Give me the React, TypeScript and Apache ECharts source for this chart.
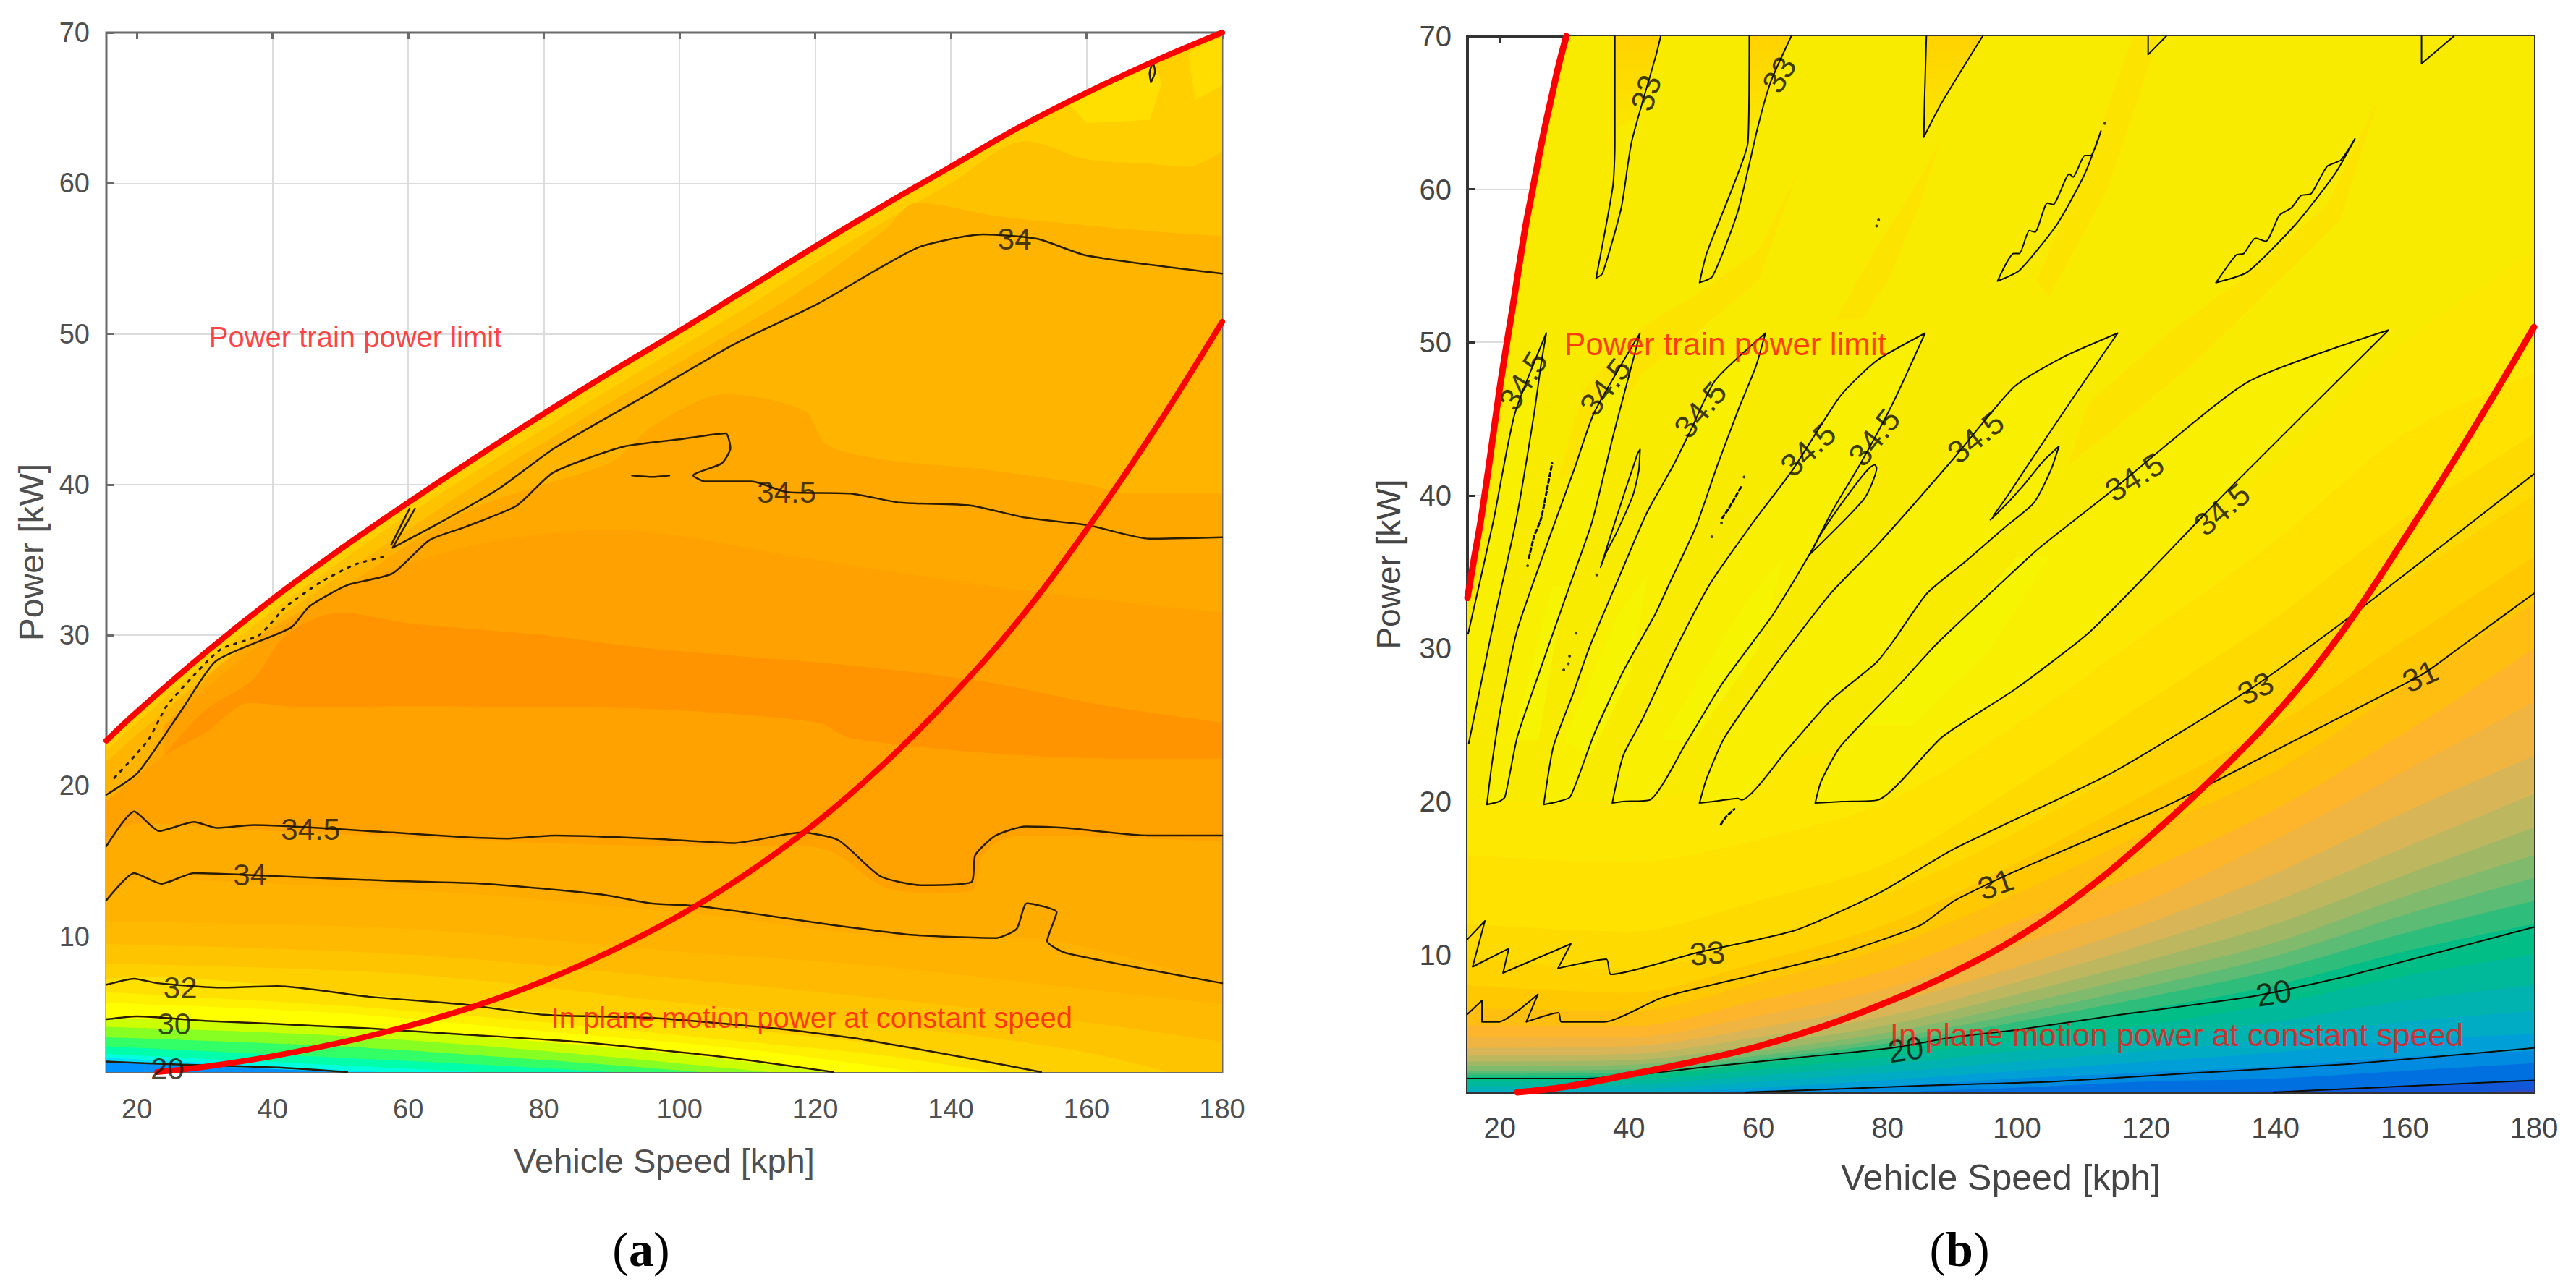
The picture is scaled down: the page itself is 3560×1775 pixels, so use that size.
import React, { useEffect, useRef } from "react";
import * as echarts from "echarts";

type P = number[];
const xTicks = [20, 40, 60, 80, 100, 120, 140, 160, 180];
const yTicks = [10, 20, 30, 40, 50, 60, 70];
const xTitle = "Vehicle Speed [kph]";
const yTitle = "Power [kW]";
const limitLabel = "Power train power limit";
const planeLabel = "In plane motion power at constant speed";

// ---------- panel (a) ----------
const limitA: P[] = [[15.5,23],[20,24.9],[30,28.8],[40,32.4],[50,35.7],[60,38.8],[70,41.8],[80,44.7],[90,47.5],[100,50.2],[110,53],[120,55.8],[130,58.5],[140,61.1],[150,63.7],[160,66],[170,68.1],[180,70]];
const planeA: P[] = [[23,1],[30,1.35],[40,2.05],[50,2.95],[60,4.05],[70,5.4],[80,7.05],[90,9.05],[100,11.4],[110,14.2],[120,17.5],[130,21.4],[140,25.9],[150,31],[160,37],[170,43.6],[180,50.8]];
const bandColorsA = ["#FFC200","#FFB400","#FFA900","#FFA100","#FF9400","#FFA200","#FFAC00","#FFB300","#FFBA00","#FFC400","#FFD000","#FFE000","#FFF000","#FFFF00","#CCFF00","#88FF22","#33FF66","#00FFAA","#00FFDD","#00E0FF","#0090FF"];
const bandsA: P[][] = [
  [[15.5,22.4],[20,24.2],[30,28.1],[40,31.6],[50,34.9],[60,38],[70,40.9],[80,43.7],[90,46.4],[100,49.1],[110,51.8],[120,54.7],[130,57.4],[140,60],[151,62.8],[160,61.6],[169,61.3],[175,61.1],[180,62.1]],
  [[15.5,21.6],[20,23.4],[30,27.2],[40,30.8],[50,34],[60,37],[70,40],[80,42.8],[90,45.5],[100,48.1],[110,50.7],[120,53.5],[130,56.8],[135,58.7],[147,57.8],[160,57.2],[170,56.8],[180,56.5]],
  [[15.5,19],[20,20.5],[30,27],[40,30.5],[50,33],[60,36],[70,38.5],[80,40],[90,41.5],[95.8,43.8],[106.8,46],[118.4,44.9],[121.6,42.7],[129.5,41.7],[144.8,41],[160.2,40],[166,39.4],[180,39.4]],
  [[24,24],[37,29],[50,33],[70,36],[90,37],[120,35],[150,33],[180,31.5]],
  [[24,22],[30,25],[37,27],[42,30],[50,31.5],[60,30.8],[80,30],[95.8,29.1],[125,28],[145,26.9],[163,25.3],[180,24.2]],
  [[15.5,19],[24,22],[30,23.5],[36.7,25.5],[45,25.2],[60,25.3],[80,25.2],[95.8,25.1],[120.4,24.2],[125,23.2],[145,22.2],[166,21.8],[180,21.8]],
  [[15.5,16.5],[20,17.5],[40,17],[80,16.2],[100,16],[118,16],[123,15.5],[130,13.3],[136,12.9],[143,13],[144.5,15.2],[147,16.3],[151,16.7],[180,16.3]],
  [[15.5,12.5],[20,13.8],[40,13.5],[70,12.8],[90,12],[103,11.5],[120,10.5],[140,9.7],[150,9.9],[180,6.8]],
  [[15.5,11],[60,10.5],[100,9],[130,8],[160,6.5],[180,5.5]],
  [[15.5,9.5],[60,8.8],[100,7.2],[140,5.4],[160,4.3],[180,3]],
  [[15.5,8.2],[60,7.5],[100,5.6],[140,3.6],[160,2.3],[172,1]],
  [[15.5,7.2],[22,7.3],[50,6.3],[80,5],[110,3.8],[130,2.8],[153,1]],
  [[15.5,6.3],[50,5.4],[80,4.3],[110,3],[130,2.1],[146,1]],
  [[15.5,5.6],[50,4.9],[80,3.7],[110,2.5],[135,1]],
  [[15.5,4.6],[50,4],[80,3],[100,2.2],[122,1]],
  [[15.5,4],[50,3.4],[80,2.4],[113,1]],
  [[15.5,3.3],[50,2.7],[80,1.8],[103,1]],
  [[15.5,2.7],[50,1.95],[70,1.5],[90,1]],
  [[15.5,2.2],[50,1.45],[70,1]],
  [[15.5,1.95],[40,1.4],[56,1]],
  [[15.5,1.75],[26,1.5],[40,1.2],[50,1]],
];
const patchesA: P[][] = [
  [[157,65.5],[160,64],[169.3,64.2],[171.1,66.6],[170,68],[164,67]],
  [[175,68.6],[179.8,69.8],[180,66.5],[176,65.5]],
];
const patchColorsA = ["#FFDF00", "#FFDD00"];
const contoursA: P[][] = [
  [[15.5,19.4],[20.2,20.9],[27,25.3],[31.7,28.3],[42.7,30.5],[45.4,31.9],[50.9,33.3],[57.7,34.1],[63.1,36.3],[68.5,37.2],[76,38.6],[81.4,40.8],[91.6,42.5],[100,43],[106.8,43.4],[107.5,42.4],[106.2,41.4],[102,40.6],[103.8,40.2],[110.6,40.2],[115.8,39.5],[125.2,39.4],[132.5,38.8],[143,38.6],[151,37.8],[160.2,37.3],[169.3,36.4],[180,36.5]],
  [[93,40.6],[96,40.5],[98.5,40.6]],
  [[61,38.4],[58.2,36.2],[57.7,35.8],[64.4,37.4],[73.3,39.7],[81.5,42.4],[95,45.9],[108,49.3],[120.4,52],[135,55.7],[144.8,56.6],[152.8,56.3],[160,55.2],[180,54]],
  [[60.2,38.4],[57.5,36]],
  [[15.5,16],[19.6,18.3],[23.3,17],[28.4,17.6],[31.8,17.2],[37.2,17.4],[57.7,16.9],[67.9,16.6],[74.7,16.5],[81.5,16.7],[95.8,16.5],[108,16.2],[118,16.9],[123.4,16.4],[129.6,14],[135.6,13.4],[143,13.6],[143.6,15.4],[146.6,16.7],[151,17.3],[157,17.2],[169,16.7],[180,16.7]],
  [[15.5,12.4],[19.6,14.2],[23.6,13.5],[28.4,14.2],[40.7,14],[57,13.7],[71.3,13.5],[88.3,12.8],[95.8,12.2],[103.2,12],[120.4,10.9],[134.5,10.1],[146.6,9.9],[149.7,10.5],[151.2,12.2],[155.6,11.6],[154.2,9.7],[157,8.9],[180,6.9]],
  [[15.5,6.8],[19.6,7.2],[23,6.9],[32.5,6.6],[40.7,6.7],[54.2,6],[67.9,5.5],[80,4.8],[95.8,4.6],[114,3.9],[126.5,3.2],[141.6,2],[153.3,1]],
  [[15.5,4.5],[20,4.7],[30,4.4],[40,4.2],[54,3.9],[68,3.5],[85,3],[106.5,2],[122.7,1]],
  [[15.5,1.7],[26,1.5],[40.7,1.3],[51,1]],
  [[169.5,66.7],[170.1,67.4],[169.8,68],[169.3,67.3],[169.5,66.7]],
];
const dottedA: P[] = [[56.3,35.2],[52.2,34.7],[47.4,33.6],[42,31.9],[38,30],[32.5,29.1],[29.8,28],[24.4,25.3],[21.6,23],[16.2,20.3]];
const labelsA: (number | string)[][] = [[45.6,17.1,"34.5",0],[36.7,14.1,"34",0],[26.4,6.6,"32",0],[25.5,4.2,"30",0],[24.5,1.2,"20",0],[149.4,56.3,"34",0],[115.8,39.5,"34.5",0]];
const redA: (number | string)[][] = [[52.2,49.8,limitLabel],[119.5,4.6,planeLabel]];

// ---------- panel (b) ----------
const limitB: P[] = [[15,33.3],[16,35.8],[17,38.2],[18,41],[19,44],[20,47],[21,49.7],[22,52.3],[23,55],[24,57.6],[25,59.8],[26,62],[27,64.1],[28,66],[29,67.9],[30.3,70]];
const domainB: P[] = [...limitB, [180, 70]];
const planeB: P[] = [[22.7,1],[30,1.35],[40,2.15],[50,3],[60,4],[70,5.3],[80,6.9],[90,8.8],[100,11.1],[110,14],[120,17.5],[130,21.4],[140,25.7],[150,30.9],[160,37.2],[170,43.9],[180,51]];
const isoSpeeds = [15, 40, 60, 80, 100, 120, 140, 160, 180];
const isoColors = ["#FCE800","#FFE200","#FFDA00","#FFD200","#FFC800","#FFBE10","#FFB52B","#F0B440","#D8B658","#BDB860","#A0B866","#80BA6C","#5CBB74","#2EBD7A","#00BE85","#00B89A","#00B2B0","#00ACC4","#009FD8"];
const isoPowers: number[][] = [
  [20,20,22,25,30,36,42,50,56],
  [16.5,16,17.5,20,25,31,37,44,48],
  [12,11.5,13.5,16,21,26.5,32,38.5,44],
  [9.8,9,11,14,18,23,28.5,34.5,40],
  [8,7.5,9.5,12,16,20.5,25,30.5,36],
  [6.5,6.3,8.2,10.5,14,18,22,27.5,33],
  [5.4,5.3,7,9,12.2,15.5,19.5,24.5,30],
  [4.6,4.6,6,7.8,10.6,13.5,17.5,22,26.5],
  [3.9,4,5.2,6.8,9.2,12,15.3,19.3,23],
  [3.4,3.5,4.6,6,8.2,10.7,13.5,17,20.5],
  [3,3.1,4.1,5.4,7.4,9.6,12,15.2,18.3],
  [2.7,2.8,3.7,4.9,6.7,8.7,10.8,13.8,16.5],
  [2.4,2.5,3.4,4.5,6.1,7.9,9.9,12.6,15],
  [2.2,2.3,3.15,4.2,5.6,7.2,9,11.4,13.5],
  [2,2.1,2.9,3.9,5.1,6.4,8,10.2,12],
  [1.7,1.8,2.5,3.3,4.4,5.4,6.8,8.6,10],
  [1.4,1.5,2.1,2.8,3.7,4.5,5.6,7,8],
  [1.15,1.2,1.7,2.3,3,3.7,4.5,5.6,6.3],
  [1,1,1.3,1.8,2.4,3,3.6,4.4,4.8],
];
const lowIsoColors = ["#008AE0","#0070E0","#1058D8","#2A4CC8"];
const lowIso: P[][] = [
  [[50,1],[80,1.4],[100,1.9],[120,2.3],[140,2.7],[160,3.3],[180,3.7]],
  [[80,1],[100,1.3],[120,1.7],[140,1.9],[160,2.4],[180,2.9]],
  [[125,1],[140,1.1],[160,1.4],[180,1.8]],
  [[170,1],[180,1.2]],
];
const stripesB: P[][] = [
  [[108,42],[111,46],[124,50.8],[136,54.5],[148,59],[156,66],[150,58],[138,53],[127,48.5],[114,44]],
  [[29,41],[33,47],[42,51],[50,53],[60,56],[66,61],[60,54],[50,50.5],[42,48],[34,42]],
  [[72,51.5],[78,56],[84,60],[88,63],[85,59],[80,54],[76,51.5]],
  [[103,54],[112,63],[118,70],[122,70],[114,60],[105,53]],
];
const leafZero: P[] = [[15.1,30.95],[19,38.3],[22.3,45.3],[27.2,50.6],[26.4,48.6],[25.3,45.3],[22.5,38.3],[19.3,32.2],[15.2,23.8]];
const leafA: P[] = [[18,19.8],[18.8,22.5],[20.1,26],[22.7,31.2],[27.9,37.5],[31.6,41.8],[34.6,45.4],[41.7,50.6],[40.6,48.8],[37.6,44],[34.3,38.3],[30.9,34.2],[26,28.3],[22.7,24.2],[20.8,20.3],[19.9,20],[18,19.8]];
const leafB: P[] = [[26.8,19.8],[28.3,23.6],[31.3,27],[33.9,30.1],[38.4,34.6],[42.8,38.9],[46.9,42],[49.6,44.3],[53.3,47.5],[61.1,50.6],[59.6,48.4],[57,45.7],[53.7,42],[50.3,37.9],[46.2,34.2],[44,32.2],[39.1,28.5],[34.6,24.4],[30.9,20.3],[29,20],[26.8,19.8]];
const leafC: P[] = [[37.4,19.9],[39.1,23],[42.1,25.4],[46.9,29.7],[52.5,34.2],[59.3,38.3],[65.2,41.6],[72.7,46.5],[78.3,48.8],[85.8,50.6],[80.9,46.1],[75.7,42],[71.6,39.1],[67.85,36.1],[62.25,32.2],[60,30.9],[54.4,27.7],[48.8,23.8],[43.2,20.1],[39,20],[37.4,19.9]];
const leafD: P[] = [[50.9,19.9],[52,21.5],[54.8,24.2],[62.25,28.7],[71.2,33.6],[78.3,36.7],[90.2,42.4],[99.6,47.1],[107,49],[115.6,50.6],[108.9,46.5],[101.1,41.6],[98.6,40],[96.4,38.7]];
const leafDLower: P[] = [[50.9,19.9],[53,20],[56.8,20.2],[57.4,20.1],[64.5,23.4],[71.2,26.6],[78.3,29.1],[80.9,30.5],[86.1,33.6],[92.1,35.7],[98.1,37.9],[102.6,39.5],[105.2,41.6],[106.5,43.2],[104,42.2],[101.5,40.9],[99,39.7],[96.9,38.8],[95.9,38.4]];
const leafE: P[] = [[68.8,19.9],[69.7,21.3],[72.7,23.6],[82.4,27.9],[87.6,30.3],[95.85,33.6],[103.3,36.5],[113.8,40],[135.7,47.4],[157.5,50.8],[133.25,40.6],[119.1,34.4],[110.8,30.9],[99.6,27.3],[88.4,24.2],[78.5,20.1],[73,20],[68.8,19.9]];
const brightB: P[][] = [
  [[22,24],[28,34],[30,34],[26,24]],
  [[30,24],[38,32],[43,35],[40,28],[34,23]],
  [[45,24],[58,33],[64,36],[60,30],[50,24]],
  [[75,25],[92,32],[100,36],[105,36],[96,30],[84,25]],
];
const innerLoopsB: P[][] = [
  [[41.7,43],[41.3,42.7],[38,38.5],[35.6,35.3],[36.5,36.3],[38,37.5],[40.6,40],[41.5,41.6],[41.7,43]],
  [[67.85,36.1],[76.4,39.8],[78.3,41.8],[78,42],[73.45,39.8],[69.7,37.5],[68.2,36.3]],
];
const thickLoopsB: P[][] = [
  [[24.5,35.9],[25.3,37.3],[26.4,38.5],[27.5,40.8],[28.1,42.1]],
  [[54.4,38.5],[55.5,39.2],[57.4,40.6]],
  [[54.2,18.5],[55,19],[56.3,19.5]],
];
const upperLeavesB: P[][] = [
  [[37.8,70],[37.8,62.9],[37.5,60.2],[34.9,54.2],[35.9,54.5],[38.8,58.8],[40.4,63.1],[44.2,68.8],[44.9,70]],
  [[58.6,70],[58.4,63.1],[56.1,60.2],[52,55.8],[50.9,53.9],[52.9,54.3],[56.8,58.5],[60,64.2],[61.9,67],[65.1,70]],
  [[86,70],[85.7,65.6],[85.6,63.4],[88.3,65.6],[94.7,70]],
  [[120.3,70],[120.3,68.8],[123.1,70]],
  [[162.6,70],[162.6,68.2],[167.6,70]],
  [[97,54],[99.5,55.8],[100.4,55.8],[101.9,57.3],[102.8,57.2],[104.7,59.1],[105.6,59],[108.1,61],[108.7,60.8],[110.5,62.2],[111.4,62.2],[113,63.8],[110.5,61],[106.2,57.7],[100.4,54.7],[97,54]],
  [[130.8,53.9],[133.9,55.7],[135.1,55.8],[136.9,56.8],[138.5,56.6],[140.6,58.3],[142.5,58.8],[144,59.6],[145.5,59.7],[148,61.5],[150.1,61.9],[152.3,63.3],[149.2,61],[143.1,57.7],[135.7,54.6],[130.8,53.9]],
];
const topPatchesB: P[][] = [
  [[37.8,70],[37.8,64],[41,64.5],[44.9,70]],
  [[58.6,70],[58.4,64],[60.5,65],[65.1,70]],
  [[86,70],[85.7,64],[88.3,65.6],[94.7,70]],
];
const contoursB: P[][] = [
  [[15,11],[17.7,12.2],[15.8,9.2],[21.4,10.4],[20.5,8.8],[31,10.7],[29,9.1],[36.5,9.7],[37.2,8.7],[50.3,10.1],[65.8,11.6],[78.6,14],[90.25,16.9],[114.8,21.9],[136.3,27.4],[144.6,29.9],[153.5,32.7],[180,41.4]],
  [[15,6.1],[17.25,7],[17.25,5.6],[19.8,5.6],[25.9,7.4],[24.1,5.6],[29.1,6.2],[29.5,5.6],[36.2,5.6],[45.2,7.2],[59.3,8.66],[72.2,10],[85,11.9],[90.25,13.5],[99.5,15.4],[121,19.3],[128.3,20.8],[141.2,23.6],[162.7,28.3],[168,29.9],[180,33.6]],
  [[15,1.9],[33.6,1.9],[52.9,2.7],[67,3.3],[80.6,3.9],[90.25,4.6],[100.4,5.1],[114.8,6],[136.9,7.3],[151.7,8.66],[180,11.8]],
  [[58,1],[68.3,1.15],[81.2,1.37],[90.25,1.5],[105.6,1.7],[127,2.25],[151.7,2.86],[180,3.9]],
  [[139.7,1],[151.7,1.24],[180,1.78]],
];
const dotsB: P[] = [[78.6,58],[78.3,57.6],[113.6,64.3],[31.8,31],[30.8,29.5],[30.6,29],[29.9,28.6],[52.8,37.3],[54.3,38.2],[57.8,41.2],[35,34.8],[24.3,35.4]];
const labelsB: (number | string)[][] = [
  [23.6,47.5,"34.5",58],[36.3,47.1,"34.5",53],[51,45.6,"34.5",50],[67.7,43,"34.5",43],[77.9,43.8,"34.5",52],[93.6,43.8,"34.5",39],[118.2,41.2,"34.5",32],[131.7,39.1,"34.5",40],
  [42.6,66.3,"33",72],[63.2,67.5,"33",60],[52.1,10.1,"33",5],[136.9,27.4,"33",27],[96.7,14.6,"31",20],[162.4,28.2,"31",25],[82.8,3.8,"20",8],[139.7,7.5,"20",10],
];
const redB: (number | string)[][] = [[54.9,49.9,limitLabel],[124.7,4.75,planeLabel]];

// ---------- builders ----------
const FONT = "'Liberation Sans', Arial, sans-serif";
const axisRefs = (g: number) => ({ xAxisIndex: g * 2, yAxisIndex: g });

const area = (g: number, data: P[], color: string, smooth: any = 0.3) => ({
  type: "line", ...axisRefs(g), data, smooth, showSymbol: false, symbol: "none",
  lineStyle: { width: 0 }, areaStyle: { color, opacity: 1, origin: "start" }, silent: true, z: 2,
});
const curve = (g: number, data: P[], color: string, width: number, extra: object = {}, smooth: any = 0.2) => ({
  type: "line", ...axisRefs(g), data, smooth, showSymbol: false, symbol: "none",
  lineStyle: { color, width, cap: "round", join: "round", ...extra }, silent: true, z: 3,
});
const patch = (g: number, pts: P[], fill: any) => ({
  type: "custom", ...axisRefs(g), data: pts, encode: { x: 0, y: 1 }, silent: true, clip: true, z: 2,
  renderItem: (params: any, api: any) =>
    params.dataIndex === 0
      ? { type: "polygon", shape: { points: pts.map((p) => api.coord(p)) }, style: { fill } }
      : null,
});
const texts = (g: number, rows: (number | string)[][], color: string, fontSize: number) => ({
  type: "scatter", ...axisRefs(g), symbolSize: 1, itemStyle: { color: "rgba(0,0,0,0)" }, silent: true, z: 6, clip: false,
  data: rows.map((r) => ({
    value: [r[0], r[1]],
    label: { show: true, position: "inside", formatter: String(r[2]), rotate: (r[3] as number) || 0, color, fontSize, fontFamily: FONT, align: "center", verticalAlign: "middle" },
  })),
});

const xAxisBottom = (g: number, min: number, fs: number, margin: number, color: string, nameGap: number, nameSize: number) => ({
  type: "value", gridIndex: g, min, max: 180, position: "bottom",
  name: xTitle, nameLocation: "middle", nameGap,
  nameTextStyle: { color, fontSize: nameSize, fontFamily: FONT },
  axisLine: { show: false, onZero: false },
  axisTick: { show: false, customValues: xTicks },
  axisLabel: { customValues: xTicks, color, fontSize: fs, fontFamily: FONT, margin },
  splitLine: { show: true, showMinLine: false, showMaxLine: false, lineStyle: { color: "#dcdcdc", width: 2 } },
});
const xAxisTop = (g: number, min: number, color: string) => ({
  type: "value", gridIndex: g, min, max: 180, position: "top",
  axisLine: { show: false, onZero: false },
  axisTick: { show: true, inside: true, length: 9, customValues: xTicks, lineStyle: { color, width: 3 } },
  axisLabel: { show: false, customValues: xTicks },
  splitLine: { show: false },
});
const yAxis = (g: number, fs: number, margin: number, color: string, nameGap: number, nameSize: number, tick: string) => ({
  type: "value", gridIndex: g, min: 1, max: 70, position: "left",
  name: yTitle, nameLocation: "middle", nameGap,
  nameTextStyle: { color, fontSize: nameSize, fontFamily: FONT },
  axisLine: { show: false, onZero: false },
  axisTick: { show: true, inside: true, length: 10, customValues: yTicks, lineStyle: { color: tick, width: 3 } },
  axisLabel: { customValues: yTicks, color, fontSize: fs, fontFamily: FONT, margin },
  splitLine: { show: true, showMinLine: false, showMaxLine: false, lineStyle: { color: "#dcdcdc", width: 2 } },
});

export default function App() {
  const ref = useRef<HTMLDivElement>(null);
  useEffect(() => {
    document.body.style.margin = "0";
    const chart = echarts.init(ref.current!, undefined, { renderer: "svg" });
    const topGrad = new echarts.graphic.LinearGradient(0, 0, 0, 1, [
      { offset: 0, color: "#FFD200" },
      { offset: 1, color: "#FBE600" },
    ]);
    const series: any[] = [
      // (a)
      area(0, limitA, "#FFCF00", false),
      ...bandsA.map((b, i) => area(0, b, bandColorsA[i])),
      ...patchesA.map((p, i) => patch(0, p, patchColorsA[i])),
      ...contoursA.map((c) => curve(0, c, "#2a1c00", 2.5)),
      curve(0, dottedA, "#2a1c00", 3, { type: [3, 9] }),
      { ...curve(0, limitA, "#FF0000", 8, {}, 0.4), clip: false, z: 5 },
      { ...curve(0, planeA, "#FF0000", 8, {}, 0.4), clip: false, z: 5 },
      texts(0, labelsA, "#1c1400", 42),
      texts(0, redA, "#FF1010", 40),
      // (b)
      area(1, domainB, "#F9EB00", false),
      ...stripesB.map((p) => patch(1, p, "#FDE300")),
      ...isoPowers.map((row, i) => area(1, row.map((v, k) => [isoSpeeds[k], v]), isoColors[i])),
      ...lowIso.map((row, i) => area(1, row, lowIsoColors[i])),
      ...[leafA, leafB, leafC, [...leafD, ...[...leafDLower].reverse()], leafE, leafZero].map((l) => patch(1, l, "#F9EF00")),
      ...brightB.map((p) => patch(1, p, "#F6F400")),
      ...topPatchesB.map((p) => patch(1, p, topGrad)),
      ...[leafZero, leafA, leafB, leafC, leafD, leafDLower, leafE, ...innerLoopsB, ...upperLeavesB, ...contoursB].map((c) => curve(1, c, "#0c0c00", 2)),
      ...thickLoopsB.map((c) => curve(1, c, "#0c0c00", 3, { type: [5, 4] })),
      { type: "scatter", ...axisRefs(1), data: dotsB, symbolSize: 4, itemStyle: { color: "#111" }, silent: true, z: 4 },
      { ...curve(1, limitB, "#FF0000", 9, {}, 0.4), clip: false, z: 5 },
      { ...curve(1, planeB, "#FF0000", 9, {}, 0.4), clip: false, z: 5 },
      texts(1, labelsB, "#0c0c00", 44),
      texts(1, redB, "#FF1010", 44),
    ];
    chart.setOption({
      animation: false,
      backgroundColor: "#ffffff",
      grid: [
        { left: 147, top: 45, width: 1542, height: 1437, show: true, borderColor: "#6a6a6a", borderWidth: 3, backgroundColor: "#fff" },
        { left: 2028, top: 50, width: 1474, height: 1460, show: true, borderColor: "#333", borderWidth: 4, backgroundColor: "#fff" },
      ],
      xAxis: [
        xAxisBottom(0, 15.5, 38, 32, "#505050", 99, 47),
        xAxisTop(0, 15.5, "#6a6a6a"),
        xAxisBottom(1, 15, 40, 29, "#454545", 93, 50),
        xAxisTop(1, 15, "#333"),
      ],
      yAxis: [
        yAxis(0, 38, 23, "#505050", 80, 48, "#6a6a6a"),
        yAxis(1, 40, 22, "#454545", 86, 46, "#333"),
      ],
      graphic: [
        { type: "text", x: 886, y: 1727, style: { text: "{r|(}{b|a}{r|)}", align: "center", verticalAlign: "middle", rich: { r: { fontFamily: "'Liberation Serif'", fontSize: 68, fill: "#000" }, b: { fontFamily: "'Liberation Serif'", fontSize: 68, fontWeight: "bold", fill: "#000" } } } },
        { type: "text", x: 2708, y: 1727, style: { text: "{r|(}{b|b}{r|)}", align: "center", verticalAlign: "middle", rich: { r: { fontFamily: "'Liberation Serif'", fontSize: 68, fill: "#000" }, b: { fontFamily: "'Liberation Serif'", fontSize: 68, fontWeight: "bold", fill: "#000" } } } },
      ],
      series,
    });
    return () => chart.dispose();
  }, []);
  return <div ref={ref} style={{ width: 3560, height: 1775, background: "#fff" }} />;
}
